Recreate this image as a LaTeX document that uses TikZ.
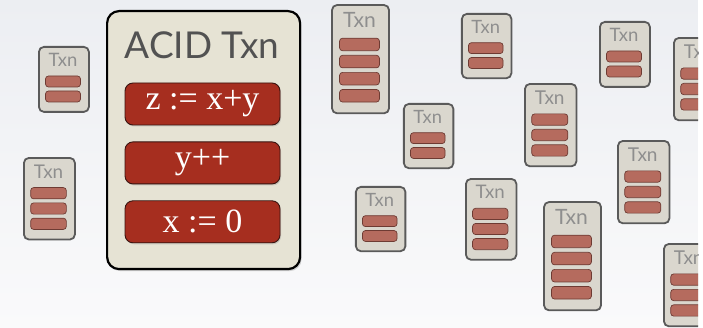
\documentclass[tikz,border=0pt]{standalone}
\usepackage{fontspec}
\usepackage{xcolor}
\usepackage{tikz}
\usetikzlibrary{positioning, shadows}

\newfontfamily\gillfont{Lato}
\newfontfamily\opfont{Liberation Serif}

\definecolor{bgtop}{HTML}{ECEEF2}
\definecolor{bgbot}{HTML}{FAFAFB}
\definecolor{txnfill}{HTML}{DAD7CE}
\definecolor{txnline}{HTML}{5A5A5A}
\definecolor{txngray}{HTML}{8E8E8E}
\definecolor{barfill}{HTML}{B56B5E}
\definecolor{barline}{HTML}{6E3B33}
\definecolor{acidfill}{HTML}{E6E3D4}
\definecolor{opfill}{HTML}{A62E1F}
\definecolor{opline}{HTML}{3A1410}

% small transaction: name, x, y, number of bars, scale
\newcommand{\txnbox}[5]{%
  \begin{scope}[shift={(#2,#3)}, scale=#5, transform shape]
    \pgfmathsetmacro\boxh{35+15*#4}
    \node[txn, minimum height=\boxh, anchor=north west] (#1) at (0,0) {};
    \node[txnlabel] (#1-lbl) at (25,14) {Txn};
    \foreach \k in {1,...,#4}
      \node[txnbar] (#1-bar\k) at (25,{20.5+15*\k}) {};
  \end{scope}}

\begin{document}
\begin{tikzpicture}[
        x=1pt, y=-1pt,
        txn/.style={draw=txnline, fill=txnfill, line width=1.8pt, rounded corners=5pt, minimum width=50, inner sep=0pt},
        txnlabel/.style={text=txngray, font=\gillfont\fontsize{18.5}{18.5}\selectfont, inner sep=0pt},
        txnbar/.style={draw=barline, fill=barfill, line width=0.7pt, rounded corners=3pt, minimum width=35, minimum height=11, inner sep=0pt},
        acidbox/.style={draw=black, fill=acidfill, line width=2.2pt, rounded corners=12pt, minimum width=193, minimum height=258, inner sep=0pt,
            drop shadow={shadow xshift=1.5pt, shadow yshift=-2pt, opacity=.35}},
        opbar/.style={draw=opline, fill=opfill, line width=0.9pt, rounded corners=8pt, minimum width=155, minimum height=42, inner sep=0pt,
            text=white, font=\opfont\fontsize{34}{34}\selectfont,
            drop shadow={shadow xshift=1pt, shadow yshift=-1.5pt, opacity=.3}}
        ]
    \useasboundingbox (0,0) rectangle (703,328);
    \fill[top color=bgtop, bottom color=bgbot] (0,0) rectangle (698,328);
    \fill[white] (698,0) rectangle (703,328);

    % the one ACID transaction
    \node[acidbox, anchor=north west] (acid) at (106,10) {};
    \node[text=black!68, font=\gillfont\fontsize{37}{37}\selectfont] (acid-title) at (202,45) {ACID Txn};
    \node[opbar] (op-z) at (202.5,104) {z := x+y};
    \node[opbar, below=16pt of op-z] (op-y) {y++};
    \node[opbar, below=16pt of op-y] (op-x) {x := 0};

    % the crowd of other transactions
    \begin{scope}
        \clip (0,0) rectangle (698,328);
        \txnbox{t1}{38}{46}{2}{1}
        \txnbox{t2}{23}{157}{3}{1.02}
        \txnbox{t3}{331}{4}{4}{1.14}
        \txnbox{t4}{461}{13}{2}{0.99}
        \txnbox{t5}{599}{21}{2}{1}
        \txnbox{t6}{673}{37}{3}{1.03}
        \txnbox{t7}{403}{103}{2}{0.99}
        \txnbox{t8}{524}{83}{3}{1.03}
        \txnbox{t9}{617}{140}{3}{1.03}
        \txnbox{t10}{355}{186}{2}{0.99}
        \txnbox{t11}{465}{178}{3}{1.01}
        \txnbox{t12}{543}{201}{4}{1.14}
        \txnbox{t13}{663}{243}{3}{1.03}
    \end{scope}
\end{tikzpicture}
\end{document}
